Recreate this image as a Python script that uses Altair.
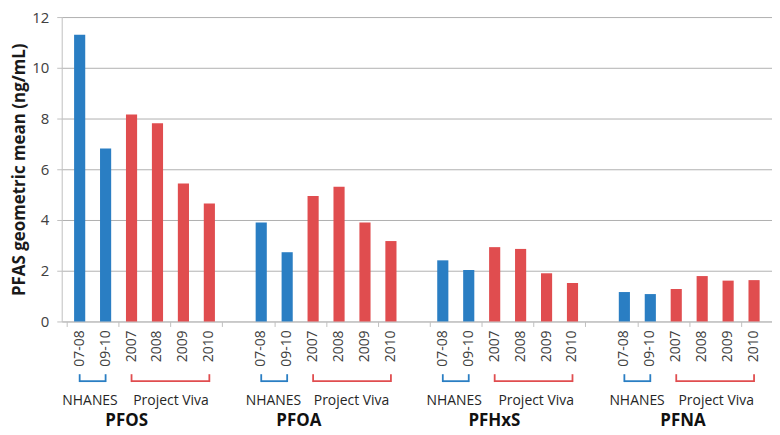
import altair as alt
import pandas as pd

# ---- data ----
groups = ["PFOS", "PFOA", "PFHxS", "PFNA"]
periods = ["07-08", "09-10", "2007", "2008", "2009", "2010"]
period_source = ["NHANES", "NHANES", "Project Viva", "Project Viva", "Project Viva", "Project Viva"]
pfos = [11.3, 6.82, 8.16, 7.81, 5.44, 4.65]
pfoa = [3.90, 2.73, 4.95, 5.31, 3.90, 3.17]
pfhxs = [2.41, 2.03, 2.93, 2.86, 1.90, 1.52]
pfna = [1.16, 1.08, 1.28, 1.79, 1.61, 1.63]
series = [pfos, pfoa, pfhxs, pfna]
y_ticks = [0, 2, 4, 6, 8, 10, 12]

# ---- layout (slot units inside each group) ----
nhanes_text_pos = [0.9, 0.97, 0.94, 0.99]
viva_text_pos = [4.02, 3.98, 4.1, 4.04]
group_text_pos = [2.31, 1.95, 2.49, 2.76]

BLUE = "#2a7ec3"
RED = "#e04d4f"
W, H = 714, 306
n_slots = len(groups) * 7 - 1

rows = []
for gi, (g, vals) in enumerate(zip(groups, series)):
    for pi, (p, s, v) in enumerate(zip(periods, period_source, vals)):
        rows.append({"slot": gi * 7 + pi + 0.5, "period": p, "value": v, "source": s})
bar_df = pd.DataFrame(rows)

br_rows, end_rows, src_txt, grp_txt = [], [], [], []
for gi, g in enumerate(groups):
    off = gi * 7
    for s, a, b in [("NHANES", 0, 1), ("Project Viva", 2, 5)]:
        x0, x1 = off + a + 0.5, off + b + 0.5
        br_rows.append({"x0": x0, "x1": x1, "source": s})
        end_rows += [{"x": x0, "source": s}, {"x": x1, "source": s}]
    src_txt.append({"x": off + nhanes_text_pos[gi], "label": "NHANES"})
    src_txt.append({"x": off + viva_text_pos[gi], "label": "Project Viva"})
    grp_txt.append({"x": off + group_text_pos[gi], "label": g})

color = alt.Color("source:N", scale=alt.Scale(domain=["NHANES", "Project Viva"], range=[BLUE, RED]), legend=None)
xscale = alt.Scale(domain=[0, n_slots], nice=False, zero=False)

base = alt.Chart(bar_df)

bars = base.mark_bar(size=11.2).encode(
    x=alt.X("slot:Q", scale=xscale,
            axis=alt.Axis(title=None, values=list(range(n_slots + 1)), labels=False,
                          tickSize=5, tickColor="#bfbfbf", domainColor="#bfbfbf", grid=False)),
    y=alt.Y("value:Q", scale=alt.Scale(domain=[0, 12]),
            axis=alt.Axis(values=y_ticks, title="PFAS geometric mean (ng/mL)",
                          titleFontSize=17, titleFontWeight="bold", titleColor="#1a1a1a", titlePadding=3,
                          labelFontSize=15, labelColor="#404040", labelPadding=8,
                          tickSize=5, tickColor="#bfbfbf", domainColor="#bfbfbf",
                          gridColor="#b0b0b0", gridWidth=1)),
    color=color,
)

xlab = base.mark_text(fontSize=14, color="#404040", angle=270, align="right", baseline="middle").encode(
    x=alt.X("slot:Q", scale=xscale), y=alt.value(H + 9), text="period:N")

br_h = alt.Chart(pd.DataFrame(br_rows)).mark_rule(strokeWidth=1.8).encode(
    x=alt.X("x0:Q", scale=xscale), x2="x1:Q", y=alt.value(366), color=color)
br_v = alt.Chart(pd.DataFrame(end_rows)).mark_rule(strokeWidth=1.8).encode(
    x=alt.X("x:Q", scale=xscale), y=alt.value(359), y2=alt.value(366.9), color=color)
t_src = alt.Chart(pd.DataFrame(src_txt)).mark_text(fontSize=14, color="#262626", baseline="middle").encode(
    x=alt.X("x:Q", scale=xscale), y=alt.value(386), text="label:N")
t_grp = alt.Chart(pd.DataFrame(grp_txt)).mark_text(fontSize=17, fontWeight="bold", color="#111111", baseline="middle").encode(
    x=alt.X("x:Q", scale=xscale), y=alt.value(406), text="label:N")

chart = alt.layer(bars, xlab, br_h, br_v, t_src, t_grp).properties(
    width=W, height=H, autosize="none",
    padding={"left": 54, "top": 8, "right": 0, "bottom": 110},
).configure(font="Open Sans").configure_view(stroke=None)

chart.save("out.html", embed_options={"renderer": "svg", "actions": False})
